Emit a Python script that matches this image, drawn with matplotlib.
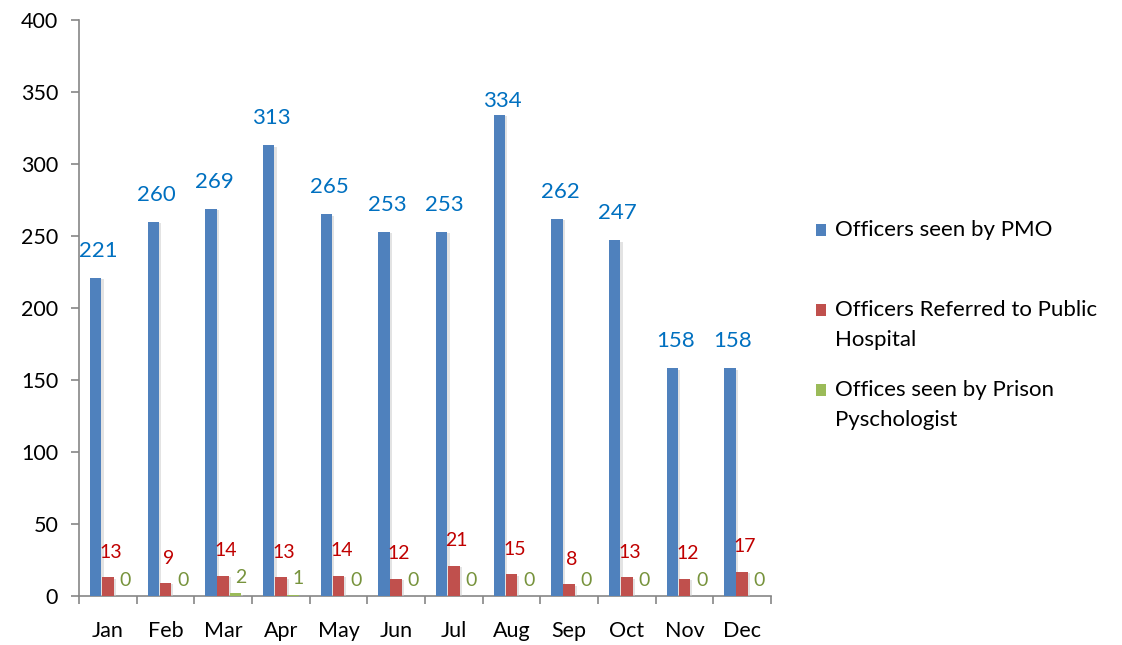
import matplotlib
matplotlib.use("Agg")
import matplotlib.pyplot as plt
import matplotlib.patheffects as pe
from matplotlib.patches import Rectangle
import numpy as np

months = ["Jan", "Feb", "Mar", "Apr", "May", "Jun", "Jul", "Aug", "Sep", "Oct", "Nov", "Dec"]
pmo = [221, 260, 269, 313, 265, 253, 253, 334, 262, 247, 158, 158]
referred = [13, 9, 14, 13, 14, 12, 21, 15, 8, 13, 12, 17]
psych = [0, 0, 2, 1, 0, 0, 0, 0, 0, 0, 0, 0]
series_names = ["Officers seen by PMO",
                "Officers Referred to Public\nHospital",
                "Offices seen by Prison\nPyschologist"]

colors = ["#4F81BD", "#C0504D", "#9BBB59"]
label_colors = ["#0070C0", "#C00000", "#77933C"]

plt.rcParams['font.family'] = ['Lato', 'DejaVu Sans']

W, H = 1122, 645
PX = 72 / 100  # points per pixel
fig = plt.figure(figsize=(W / 100, H / 100), dpi=100)
ax = fig.add_axes([79 / W, (H - 596) / H, (771 - 79) / W, (596 - 20) / H])

x = np.arange(len(months))
width = 0.2
offsets = [-0.21, 0.0, 0.21]
shadow = [pe.SimplePatchShadow(offset=(1.5, -1), shadow_rgbFace="#c8c8c8", alpha=0.5), pe.Normal()]

data = [pmo, referred, psych]
label_off = [27, 25, 16]          # pixels above bar top
label_sizes = [16, 14, 14]
label_dx = [3, 3, 5]
special_off = {(0, 7): 14}        # Aug PMO label sits closer to its bar
for i, vals in enumerate(data):
    bars = ax.bar(x + offsets[i], vals, width=width, color=colors[i], zorder=3)
    for b in bars:
        b.set_path_effects(shadow)
    for j, (xi, v) in enumerate(zip(x, vals)):
        off = special_off.get((i, j), label_off[i])
        ax.annotate(str(v), (xi + offsets[i], v), xytext=(label_dx[i] * PX, off * PX),
                    textcoords="offset points", ha="center", va="center",
                    color=label_colors[i], fontsize=label_sizes[i], zorder=5)

ax.set_xlim(-0.5, len(months) - 0.5)
ax.set_ylim(0, 400)
ax.set_yticks(range(0, 401, 50))
ax.set_xticks(x)
ax.set_xticklabels(months)
ax.set_xticks(np.arange(-0.5, len(months), 1.0), minor=True)
ax.tick_params(axis="x", which="major", length=0, pad=18, labelsize=15.5)
ax.tick_params(axis="x", which="minor", length=6, color="#868686", width=1.2)
ax.tick_params(axis="y", length=6, color="#868686", width=1.2, labelsize=15.5, pad=9)
for s in ["top", "right"]:
    ax.spines[s].set_visible(False)
for s in ["left", "bottom"]:
    ax.spines[s].set_color("#868686")
    ax.spines[s].set_linewidth(1.2)

# Legend drawn in figure coordinates
leg_y = [230, 310, 390]
for i, name in enumerate(series_names):
    yc = leg_y[i]
    fig.patches.append(Rectangle((816 / W, (H - yc - 6) / H), 10 / W, 12 / H,
                                 transform=fig.transFigure, facecolor=colors[i],
                                 edgecolor="none"))
    fig.text(835 / W, (H - yc + 10) / H, name, transform=fig.transFigure, ha="left",
             va="top", fontsize=16, color="black", linespacing=1.6)

fig.savefig("out.png", dpi=100)
